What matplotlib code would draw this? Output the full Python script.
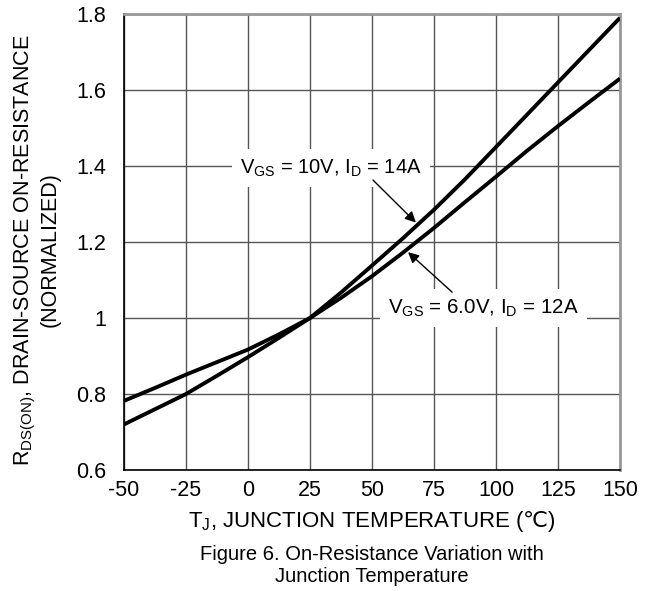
import numpy as np
import matplotlib
matplotlib.use("Agg")
import matplotlib.pyplot as plt

plt.rcParams['font.family'] = ['Liberation Sans', 'DejaVu Sans']
plt.rcParams['mathtext.fontset'] = 'custom'
plt.rcParams['mathtext.rm'] = 'Liberation Sans'
plt.rcParams['mathtext.it'] = 'Liberation Sans:italic'
plt.rcParams['mathtext.sf'] = 'DejaVu Sans'

# junction temperature (C) and normalized RDS(on)
temp = [-50, -37.5, -25, -12.5, 0, 12.5, 25, 37.5, 50, 62.5, 75, 87.5, 100, 112.5, 125, 137.5, 150]
rds_10v = [0.72, 0.76, 0.80, 0.848, 0.897, 0.948, 1.0, 1.067, 1.138, 1.21, 1.285, 1.365,
           1.45, 1.535, 1.62, 1.705, 1.79]
rds_6v = [0.782, 0.816, 0.851, 0.884, 0.917, 0.957, 1.0, 1.053, 1.11, 1.172, 1.237, 1.305,
          1.372, 1.44, 1.505, 1.568, 1.63]

x_ticks = [-50, -25, 0, 25, 50, 75, 100, 125, 150]
y_ticks = [0.6, 0.8, 1.0, 1.2, 1.4, 1.6, 1.8]
y_labels = ['0.6', '0.8', '1', '1.2', '1.4', '1.6', '1.8']

fig = plt.figure(figsize=(6.55, 5.91), dpi=100)
ax = fig.add_axes([124 / 655, 121 / 591, 496 / 655, 456 / 591])

ax.plot(temp, rds_10v, color='black', lw=2.8, solid_capstyle='butt', zorder=3)
ax.plot(temp, rds_6v, color='black', lw=2.8, solid_capstyle='butt', zorder=3)

ax.set_xlim(-50, 150)
ax.set_ylim(0.6, 1.8)
ax.set_xticks(x_ticks)
ax.set_xticklabels([str(t) for t in x_ticks])
ax.set_yticks(y_ticks)
ax.set_yticklabels(y_labels)
ax.tick_params(length=0, labelsize=15.5)
ax.tick_params(axis='y', pad=13)
ax.tick_params(axis='x', pad=7)
ax.grid(True, color='#555555', lw=1)
ax.set_axisbelow(True)

for side in ['left', 'bottom']:
    ax.spines[side].set_color('black')
    ax.spines[side].set_linewidth(1.2)
for side in ['top', 'right']:
    ax.spines[side].set_color('#999999')
    ax.spines[side].set_linewidth(2)

# curve labels with arrows
box = dict(facecolor='white', edgecolor='none', pad=6)
ax.text(33.5, 1.395, r'V$_{\mathrm{GS}}$ = 10V, I$_{\mathrm{D}}$ = 14A', fontsize=14.5,
        ha='center', va='center', bbox=box, zorder=4)
ax.text(95, 1.026, r'V$_{\mathrm{GS}}$ = 6.0V, I$_{\mathrm{D}}$ = 12A', fontsize=14.8,
        ha='center', va='center', bbox=box, zorder=4)

t1 = 68.5
ax.annotate('', xy=(t1, np.interp(t1, temp, rds_10v)), xytext=(50.4, 1.363),
            arrowprops=dict(arrowstyle='-|>', color='black', lw=1, mutation_scale=16,
                            shrinkA=0, shrinkB=2), zorder=5)
t2 = 63.7
ax.annotate('', xy=(t2, np.interp(t2, temp, rds_6v)), xytext=(82.3, 1.068),
            arrowprops=dict(arrowstyle='-|>', color='black', lw=1, mutation_scale=16,
                            shrinkA=0, shrinkB=2), zorder=5)

# axis titles
fig.text(25 / 655, 1 - 250 / 591, r'R$_{\mathrm{DS(ON)}}$, DRAIN-SOURCE ON-RESISTANCE',
         rotation=90, ha='center', va='center', fontsize=15.5)
fig.text(50 / 655, 1 - 250 / 591, '(NORMALIZED)', rotation=90, ha='center', va='center',
         fontsize=15.5)
fig.text(372 / 655, 1 - 521 / 591, r'T$_{\mathrm{J}}$, JUNCTION TEMPERATURE ($\mathsf{℃}$)',
         ha='center', va='center', fontsize=16)
fig.text(372 / 655, 1 - 566 / 591, 'Figure 6. On-Resistance Variation with\nJunction Temperature',
         ha='center', va='center', fontsize=14.5, linespacing=1.2)

fig.savefig('out.png', dpi=100)
